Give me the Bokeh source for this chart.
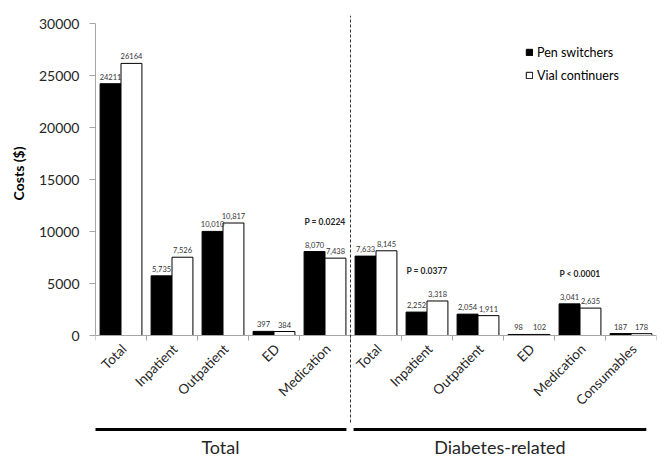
import numpy as np
from bokeh.plotting import figure
from bokeh.models import (ColumnDataSource, Range1d, FixedTicker, LinearAxis,
                          Legend, LegendItem, Title)
from bokeh.core.properties import value
from bokeh.embed import file_html
from bokeh.resources import INLINE

# ---------------- data ----------------
categories = ["Total", "Inpatient", "Outpatient", "ED", "Medication",
              "Total", "Inpatient", "Outpatient", "ED", "Medication", "Consumables"]
groups = ["Total"] * 5 + ["Diabetes-related"] * 6
pen_switchers = [24211, 5735, 10010, 397, 8070, 7633, 2252, 2054, 98, 3041, 187]
vial_continuers = [26164, 7526, 10817, 384, 7438, 8145, 3318, 1911, 102, 2635, 178]
pen_labels = ["24211", "5,735", "10,010", "397", "8,070",
              "7,633", "2,252", "2,054", "98", "3,041", "187"]
vial_labels = ["26164", "7,526", "10,817", "384", "7,438",
               "8,145", "3,318", "1,911", "102", "2,635", "178"]
p_index = [4, 6, 9]
p_text = ["P = 0.0224", "P = 0.0377", "P < 0.0001"]
y_ticks = [0, 5000, 10000, 15000, 20000, 25000, 30000]
y_title = "Costs ($)"

FONT = "Lato"
TXT = "#262626"
GRAY = "#a6a6a6"

n = len(categories)
centers = np.arange(n) + 0.5
bw = 0.41

# layout (pixels)
PX = 30000 / 312.0           # data units per screen pixel on the y axis
top_px, bottom_px = 320, 121  # frame extent above / below the zero line
y_max = top_px * PX
y_min = -bottom_px * PX

src = ColumnDataSource(dict(
    xp=centers - bw / 2, xv=centers + bw / 2,
    pen=pen_switchers, vial=vial_continuers,
    pl=pen_labels, vl=vial_labels))

p = figure(width=660, height=456, x_range=Range1d(0, n), y_range=Range1d(y_min, y_max),
           output_backend="svg", toolbar_location=None,
           x_axis_type=None, y_axis_type=None)
p.min_border_left = 95
p.min_border_right = 4
p.min_border_top = 15
p.min_border_bottom = 0
p.outline_line_color = None
p.background_fill_color = "white"
p.border_fill_color = "white"

rp = p.vbar(x="xp", top="pen", width=bw, source=src,
            fill_color="black", line_color="black", line_width=1)
rv = p.vbar(x="xv", top="vial", width=bw, source=src,
            fill_color="white", line_color="black", line_width=1)

p.text(x="xp", y="pen", text="pl", source=src, text_align="center",
       text_baseline="bottom", y_offset=-4, text_font=value(FONT),
       text_font_size="7.5px", text_color="#333333")
p.text(x="xv", y="vial", text="vl", source=src, text_align="center",
       text_baseline="bottom", y_offset=-4, text_font=value(FONT),
       text_font_size="7.5px", text_color="#333333")

psrc = ColumnDataSource(dict(
    x=[float(centers[i]) for i in p_index],
    y=[max(pen_switchers[i], vial_continuers[i]) for i in p_index],
    t=p_text))
p.text(x="x", y="y", text="t", source=psrc, text_align="center",
       text_baseline="middle", y_offset=-30, text_font=value(FONT),
       text_font_size="8.5px", text_font_style="bold", text_color=TXT)

# ---------------- y axis ----------------
yaxis = LinearAxis(ticker=FixedTicker(ticks=y_ticks), bounds=(0, 30000))
yaxis.axis_line_color = GRAY
yaxis.major_tick_line_color = GRAY
yaxis.major_tick_out = 6
yaxis.major_tick_in = 0
yaxis.minor_tick_line_color = None
yaxis.major_label_standoff = 10
yaxis.major_label_text_font = FONT
yaxis.major_label_text_font_size = "14px"
yaxis.major_label_text_color = TXT
p.add_layout(yaxis, "left")

# axis title placed beside the 0-30000 span of the axis
p.add_layout(Title(text=y_title, align="right", offset=131, vertical_align="middle",
                   standoff=15, text_font=FONT, text_font_size="14px",
                   text_font_style="bold", text_color="black"), "left")

# ---------------- category axis (drawn at zero) ----------------
p.segment(x0=[0], y0=[0], x1=[n], y1=[0], line_color=GRAY, line_width=1)
bounds = np.arange(n + 1)
p.segment(x0=bounds, y0=np.zeros(n + 1), x1=bounds, y1=np.full(n + 1, -5 * PX),
          line_color=GRAY, line_width=1)
p.text(x=centers, y=np.zeros(n), text=categories, angle=np.pi / 4,
       x_offset=3, y_offset=11, text_align="right", text_baseline="middle",
       text_font=value(FONT), text_font_size="13.5px", text_color=TXT)

# ---------------- group brackets ----------------
group_names = list(dict.fromkeys(groups))
starts = [groups.index(g) for g in group_names]
ends = [len(groups) - groups[::-1].index(g) for g in group_names]
line_lo = [starts[0] - 0.02, starts[1] + 0.06]
line_hi = [ends[0] - 0.08, ends[1] - 0.2]
line_y = -94 * PX
p.segment(x0=line_lo, y0=[line_y] * 2, x1=line_hi, y1=[line_y] * 2,
          line_color="black", line_width=3)

# dashed separator between the groups
p.segment(x0=[float(ends[0])], y0=[-87 * PX], x1=[float(ends[0])], y1=[y_max],
          line_color="#333333", line_width=1, line_dash="3 2")

p.text(x=[(a + b) / 2 for a, b in zip(line_lo, line_hi)], y=[-111 * PX] * 2,
       text=group_names, text_align="center", text_baseline="middle",
       text_font=value(FONT), text_font_size="18px", text_color=TXT)

# ---------------- legend ----------------
legend = Legend(items=[LegendItem(label="Pen switchers", renderers=[rp]),
                       LegendItem(label="Vial continuers", renderers=[rv])],
                location=(430, 373), glyph_width=8, glyph_height=8,
                label_standoff=4, label_height=16, spacing=7, padding=0, margin=0,
                border_line_color=None, background_fill_alpha=0,
                label_text_font=FONT, label_text_font_size="12.5px",
                label_text_color="black")
p.add_layout(legend)

open("out.html", "w").write(file_html(p, INLINE))
